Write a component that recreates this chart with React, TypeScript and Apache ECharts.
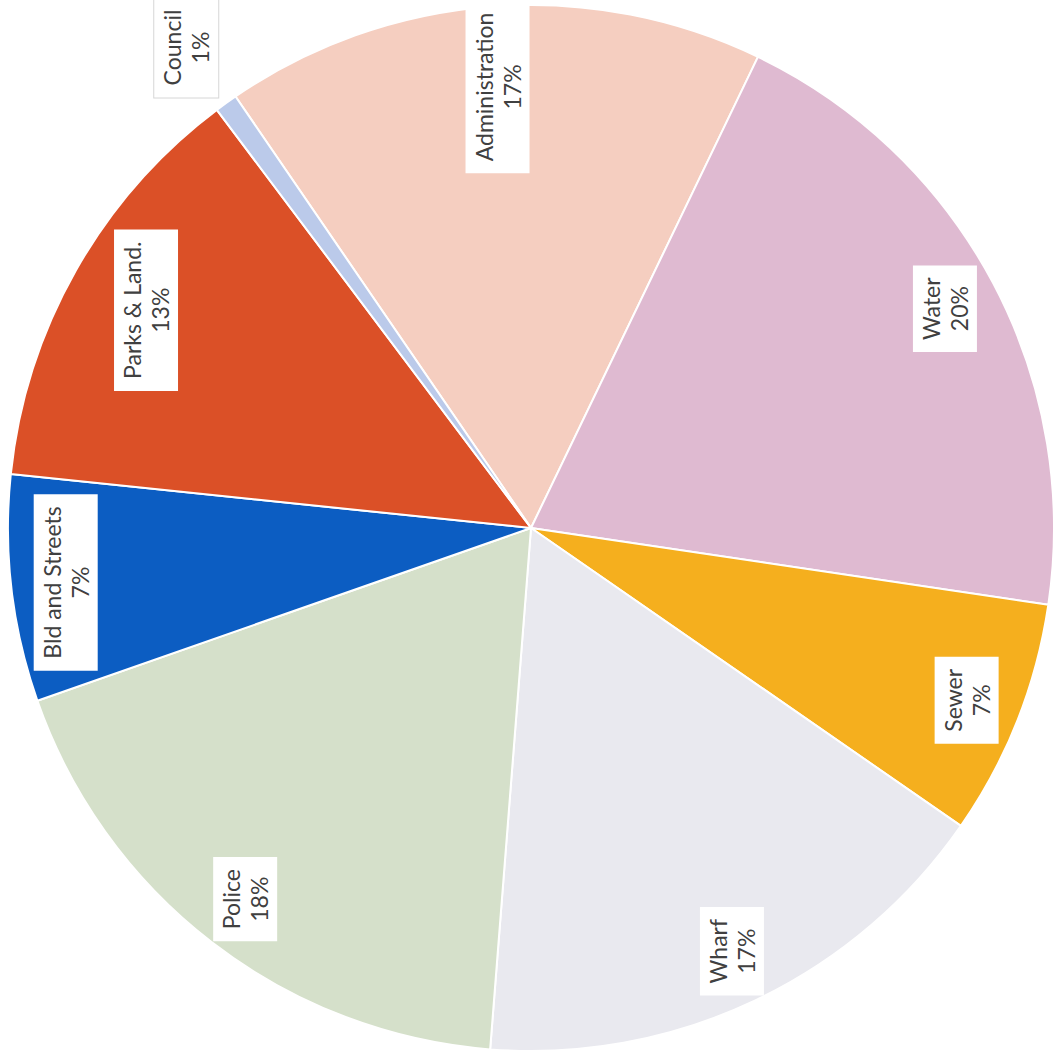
import React, { useEffect, useRef } from "react";
import * as echarts from "echarts";

const categories = [
  "Administration",
  "Water",
  "Sewer",
  "Wharf",
  "Police",
  "Bld and Streets",
  "Parks & Land.",
  "Council",
];
const values = [16.7, 20.2, 7.3, 16.6, 18.4, 7.0, 13.1, 0.7];
const colors = [
  "#F5CEC0",
  "#DFBAD1",
  "#F5AF1E",
  "#E9E9EF",
  "#D5E0CA",
  "#0C5DC2",
  "#DB5027",
  "#BBCAEA",
];
// label ring groups (purely placement of the text boxes)
const innerLabelGroup = ["Administration", "Parks & Land."];
const outsideLabelGroup = ["Council"];

export default function App() {
  const ref = useRef<HTMLDivElement>(null);
  useEffect(() => {
    if (!ref.current) return;
    const chart = echarts.init(ref.current, undefined, { renderer: "svg" });
    const R = 523;
    const center = [531, 528];
    const labelStyle = {
      rotate: 90,
      formatter: "{b}\n{d}%",
      color: "#404040",
      fontFamily: "Lato",
      fontSize: 23,
      lineHeight: 28,
      backgroundColor: "#ffffff",
      padding: [4, 12, 4, 12],
    };
    const overlay = (radius: number[], show: (c: string) => boolean, extra: any = {}) => ({
      type: "pie",
      center,
      radius,
      startAngle: 124.4,
      clockwise: true,
      percentPrecision: 0,
      silent: true,
      data: categories.map((c, i) => ({
        name: c,
        value: values[i],
        itemStyle: { color: "rgba(0,0,0,0)" },
        label: { show: show(c) },
      })),
      itemStyle: { borderWidth: 0 },
      label: { ...labelStyle, ...extra, position: "inside" },
      labelLine: { show: false },
    });
    chart.setOption({
      animation: false,
      backgroundColor: "#ffffff",
      series: [
        {
          type: "pie",
          center,
          radius: [0, R],
          startAngle: 124.4,
          clockwise: true,
          percentPrecision: 0,
          data: categories.map((c, i) => ({
            name: c,
            value: values[i],
            itemStyle: { color: colors[i] },
          })),
          itemStyle: { borderColor: "#ffffff", borderWidth: 2 },
          label: { show: false },
          labelLine: { show: false },
          silent: true,
        },
        overlay([R * 0.74, R * 0.94], (c) => innerLabelGroup.includes(c)),
        overlay(
          [R * 0.79, R * 0.99],
          (c) => !innerLabelGroup.includes(c) && !outsideLabelGroup.includes(c)
        ),
        overlay([R * 1.07, R * 1.18], (c) => outsideLabelGroup.includes(c), {
          borderColor: "#d6d6d6",
          borderWidth: 1,
        }),
      ],
    });
    return () => chart.dispose();
  }, []);
  return (
    <div
      ref={ref}
      style={{
        position: "fixed",
        left: 0,
        top: 0,
        width: 1054,
        height: 1056,
        background: "#ffffff",
      }}
    />
  );
}
